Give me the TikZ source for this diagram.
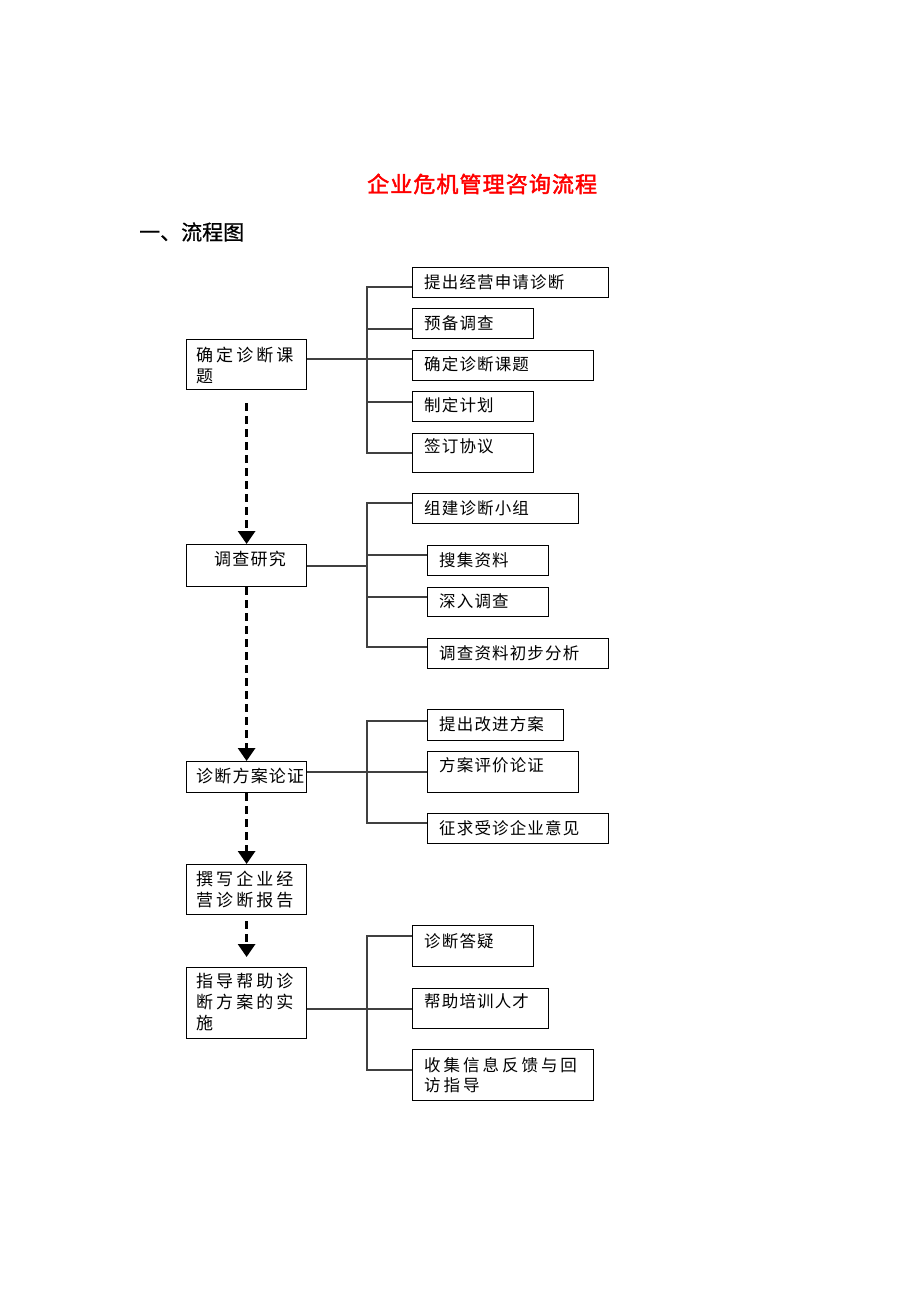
\documentclass[tikz,border=0pt]{standalone}
\usepackage{fontspec}
\newfontfamily\cjkR[LetterSpace=7]{Noto Sans CJK SC}
\newfontfamily\cjkW[LetterSpace=18]{Noto Sans CJK SC}
\newfontfamily\cjkT[FakeBold=2,LetterSpace=5]{Noto Sans CJK SC}
\newfontfamily\cjkH[FakeBold=0.6]{Noto Sans CJK SC}
\usetikzlibrary{arrows.meta}
\tikzset{
 box/.style={draw=black, line width=1.2pt, inner sep=0pt, anchor=north west},
 rt/.style={font=\cjkR\fontsize{16.5}{20.5}\selectfont, anchor=west, inner sep=0pt, align=left},
 rtw/.style={font=\cjkW\fontsize{16.5}{20.5}\selectfont, anchor=west, inner sep=0pt, align=left},
 lt/.style={font=\cjkW\fontsize{17}{21}\selectfont, anchor=west, inner sep=0pt, align=left},
 ltn/.style={font=\cjkR\fontsize{17}{21}\selectfont, anchor=west, inner sep=0pt, align=left},
 link/.style={draw=black!75, line width=1.1pt},
 flow/.style={line width=3pt, dash pattern=on 8pt off 5pt, -{Triangle[length=13pt,width=17pt]}}
}
\begin{document}
\begin{tikzpicture}[x=1pt,y=-1pt]
\fill[white] (0,0) rectangle (920,1302);
\useasboundingbox (0,0) rectangle (920,1302);
% titles
\node[font=\cjkT\fontsize{22}{26}\selectfont, text=red, anchor=west, inner sep=0pt] (title) at (367,184) {企业危机管理咨询流程};
\node[font=\cjkH\fontsize{21}{25}\selectfont, anchor=west, inner sep=0pt] (head) at (139,232) {一、流程图};
% left boxes
\node[box, minimum width=120pt, minimum height=50pt] (L1) at (186,339) {};
\node[box, minimum width=120pt, minimum height=42pt] (L2) at (186,544) {};
\node[box, minimum width=120pt, minimum height=31pt] (L3) at (186,761) {};
\node[box, minimum width=120pt, minimum height=50pt] (L4) at (186,864) {};
\node[box, minimum width=120pt, minimum height=71pt] (L5) at (186,967) {};
\node[lt] (L1t) at (196,365.5) {确定诊断课\\题};
\node[ltn] (L2t) at (214,559) {调查研究};
\node[ltn] (L3t) at (196,776) {诊断方案论证};
\node[lt] (L4t) at (196,890) {撰写企业经\\营诊断报告};
\node[lt] (L5t) at (196,1002.5) {指导帮助诊\\断方案的实\\施};
% group 1
\node[box, minimum width=196pt, minimum height=30pt] (A1) at (412,267) {};
\node[box, minimum width=121pt, minimum height=30pt] (A2) at (412,308) {};
\node[box, minimum width=181pt, minimum height=30pt] (A3) at (412,350) {};
\node[box, minimum width=121pt, minimum height=30pt] (A4) at (412,391) {};
\node[box, minimum width=121pt, minimum height=39pt] (A5) at (412,433) {};
\node[rt] (A1t) at (424,282) {提出经营申请诊断};
\node[rt] (A2t) at (424,323) {预备调查};
\node[rt] (A3t) at (424,364.5) {确定诊断课题};
\node[rt] (A4t) at (424,405.5) {制定计划};
\node[rt] (A5t) at (424,446) {签订协议};
% group 2
\node[box, minimum width=166pt, minimum height=30pt] (B1) at (412,493) {};
\node[box, minimum width=121pt, minimum height=30pt] (B2) at (427,545) {};
\node[box, minimum width=121pt, minimum height=29pt] (B3) at (427,587) {};
\node[box, minimum width=181pt, minimum height=30pt] (B4) at (427,638) {};
\node[rt] (B1t) at (424,508.5) {组建诊断小组};
\node[rt] (B2t) at (439,560) {搜集资料};
\node[rt] (B3t) at (439,601.5) {深入调查};
\node[rt] (B4t) at (439,653) {调查资料初步分析};
% group 3
\node[box, minimum width=136pt, minimum height=31pt] (C1) at (427,709) {};
\node[box, minimum width=151pt, minimum height=41pt] (C2) at (427,751) {};
\node[box, minimum width=181pt, minimum height=30pt] (C3) at (427,813) {};
\node[rt] (C1t) at (439,724.5) {提出改进方案};
\node[rt] (C2t) at (439,765) {方案评价论证};
\node[rt] (C3t) at (439,828) {征求受诊企业意见};
% group 5
\node[box, minimum width=121pt, minimum height=41pt] (D1) at (412,925) {};
\node[box, minimum width=136pt, minimum height=40pt] (D2) at (412,988) {};
\node[box, minimum width=181pt, minimum height=51pt] (D3) at (412,1049) {};
\node[rt] (D1t) at (424,941) {诊断答疑};
\node[rt] (D2t) at (424,1001) {帮助培训人才};
\node[rtw] (D3t) at (424,1075) {收集信息反馈与回\\访指导};
% trunk coordinates
\coordinate (a1) at (367,287); \coordinate (a2) at (367,329); \coordinate (a3) at (367,359);
\coordinate (a4) at (367,402); \coordinate (a5) at (367,453);
\coordinate (b1) at (367,503); \coordinate (b2) at (367,555); \coordinate (bm) at (367,566);
\coordinate (b3) at (367,597); \coordinate (b4) at (367,647);
\coordinate (c1) at (367,721); \coordinate (c2) at (367,772); \coordinate (c3) at (367,823);
\coordinate (d1) at (367,936); \coordinate (d2) at (367,1009); \coordinate (d3) at (367,1070);
% group 1 connectors
\draw[link] (A1.west |- a1) -- (a1) -- (a5) -- (A5.west |- a5);
\draw[link] (a2) -- (A2.west |- a2);
\draw[link] (L1.east |- a3) -- (A3.west |- a3);
\draw[link] (a4) -- (A4.west |- a4);
% group 2 connectors
\draw[link] (B1.west |- b1) -- (b1) -- (b4) -- (B4.west |- b4);
\draw[link] (b2) -- (B2.west |- b2);
\draw[link] (L2.east |- bm) -- (bm);
\draw[link] (b3) -- (B3.west |- b3);
% group 3 connectors
\draw[link] (C1.west |- c1) -- (c1) -- (c3) -- (C3.west |- c3);
\draw[link] (L3.east |- c2) -- (C2.west |- c2);
% group 5 connectors
\draw[link] (D1.west |- d1) -- (d1) -- (d3) -- (D3.west |- d3);
\draw[link] (L5.east |- d2) -- (D2.west |- d2);
% flow arrows
\draw[flow, shorten <=13pt] (L1.south) -- (L2.north);
\draw[flow] (L2.south) -- (L3.north);
\draw[flow] (L3.south) -- (L4.north);
\draw[flow, shorten <=6pt, shorten >=10pt] (L4.south) -- (L5.north);
\end{tikzpicture}
\end{document}
